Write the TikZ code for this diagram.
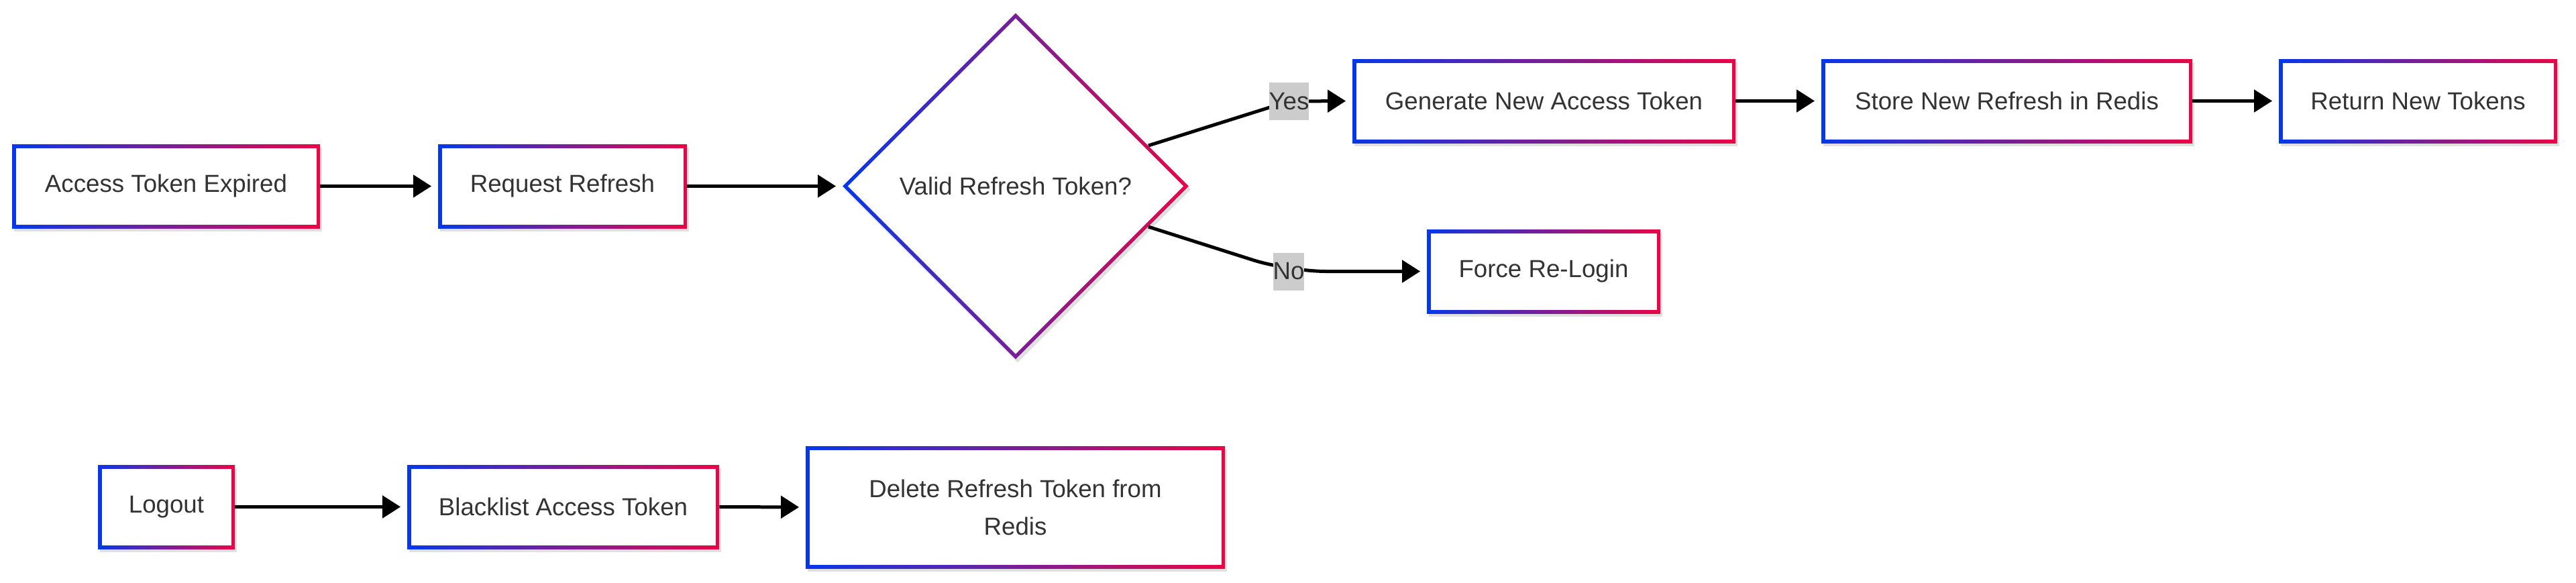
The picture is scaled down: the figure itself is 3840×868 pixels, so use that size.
\documentclass[tikz,border=0pt]{standalone}
\usepackage{fontspec}
\setmainfont{Liberation Sans}
\usetikzlibrary{arrows.meta,shapes.geometric,shadows,backgrounds}
\definecolor{cblue}{RGB}{5,55,235}
\definecolor{cred}{RGB}{235,5,70}
\definecolor{tgray}{RGB}{51,51,51}
\definecolor{lblgray}{RGB}{204,204,204}
\newcommand{\mfs}{\fontsize{18.35}{28}\selectfont}
\begin{document}
\begin{tikzpicture}[x=0.5pt,y=-0.5pt,
 gshadow/.style={drop shadow={shadow xshift=1.5pt,shadow yshift=-2.5pt,opacity=0.12,fill=black}},
 box/.style={rectangle, inner sep=0pt, minimum height=62.5pt, align=center, text=tgray, font=\mfs,
   left color=cblue, right color=cred, gshadow,
   path picture={\fill[white] ([shift={(2.75pt,-2.75pt)}]path picture bounding box.north west) rectangle ([shift={(-2.75pt,2.75pt)}]path picture bounding box.south east);}},
 dia/.style={diamond, inner sep=0pt, minimum width=258pt, minimum height=258pt, aspect=1, text=tgray, font=\mfs,
   left color=cblue, right color=cred, gshadow,
   path picture={\fill[white] ([yshift=-3.9pt]path picture bounding box.north) -- ([xshift=-3.9pt]path picture bounding box.east) -- ([yshift=3.9pt]path picture bounding box.south) -- ([xshift=3.9pt]path picture bounding box.west) -- cycle;}},
 lbl/.style={rectangle, fill=lblgray, inner xsep=0pt, inner ysep=0pt, minimum height=28pt, text=tgray, font=\mfs},
 arr/.style={line width=2.5pt, -{Triangle[length=13.5pt,width=16.5pt]}, shorten >=4.75pt},
]
\useasboundingbox (0,0) rectangle (3840,868);

\node[box, minimum width=229.5pt] (acc) at (247.5,277.5) {Access Token Expired};
\node[box, minimum width=185.5pt] (req) at (838.5,277.5) {Request Refresh};
\node[dia] (dec) at (1514,277.5) {Valid Refresh Token?};
\node[box, minimum width=285.5pt] (gen) at (2301.5,150.5) {Generate New Access Token};
\node[box, minimum width=276.5pt] (store) at (2991.5,150.5) {Store New Refresh in Redis};
\node[box, minimum width=207.5pt] (ret) at (3604.5,150.5) {Return New Tokens};
\node[box, minimum width=174pt] (force) at (2301,404.5) {Force Re-Login};
\node[box, minimum width=102pt] (logout) at (248,755.5) {Logout};
\node[box, minimum width=232.5pt] (black) at (839.5,755.5) {Blacklist Access Token};
\node[box, minimum width=312.5pt, minimum height=91pt] (del) at (1513.5,756) {Delete Refresh Token from\\Redis};

\node[lbl] (yes) at (1921.5,151) {Yes};
\node[lbl] (no) at (1921,404.5) {No};

\begin{pgfonlayer}{background}
\fill[white] (0,0) rectangle (3840,868);
\draw[arr] (acc.east) -- (req.west);
\draw[arr] (req.east) -- (dec.west);
\draw[arr, rounded corners=6pt] (dec.17) -- (yes.center) -- (gen.west);
\draw[arr] (gen.east) -- (store.west);
\draw[arr] (store.east) -- (ret.west);
\draw[arr, rounded corners=28pt] (dec.-17) -- (no.center) -- (force.west);
\draw[arr] (logout.east) -- (black.west);
\draw[arr] (black.east) -- (del.west);
\end{pgfonlayer}
\end{tikzpicture}
\end{document}
